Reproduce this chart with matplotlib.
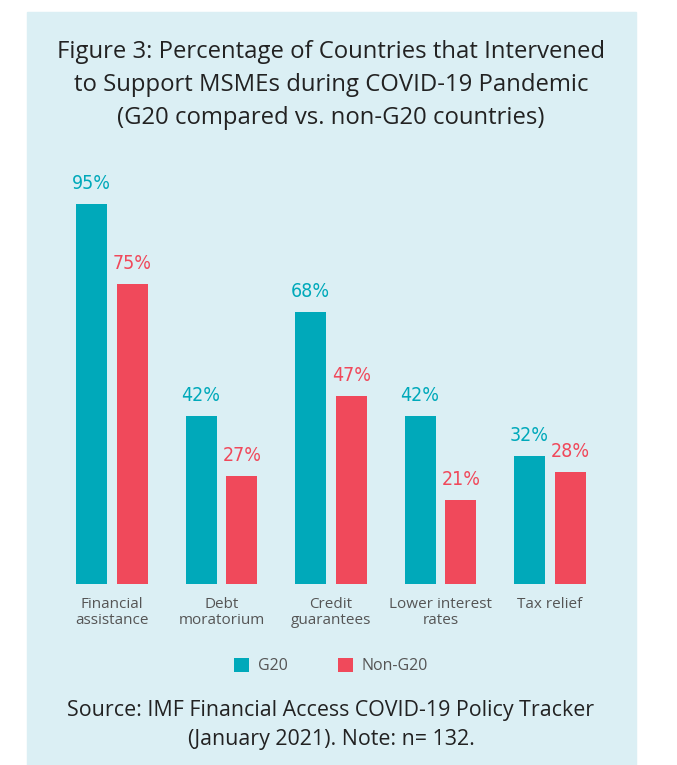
import matplotlib.pyplot as plt
from matplotlib import font_manager
import numpy as np

# Data
categories = ["Financial\nassistance", "Debt\nmoratorium", "Credit\nguarantees",
              "Lower interest\nrates", "Tax relief"]
g20 = [95, 42, 68, 42, 32]
non_g20 = [75, 27, 47, 21, 28]

teal = "#00A9BA"
red = "#F0495B"
bg = "#DBEFF4"
text_dark = "#222222"
text_gray = "#555555"
main_font = ["Open Sans", "DejaVu Sans"]

# look for a condensed sans font for the value labels
lab_prop = None
for f in font_manager.fontManager.ttflist:
    cond = str(f.stretch) in ("condensed", "semi-condensed", "extra-condensed") \
        or "Narrow" in f.name or "Condensed" in f.name
    if cond and "Serif" not in f.name and "Mono" not in f.name \
            and f.style == "normal" and f.weight in (400, "normal", 500):
        lab_prop = font_manager.FontProperties(fname=f.fname, size=14)
        break
if lab_prop is None:
    lab_prop = font_manager.FontProperties(family="Roboto", size=13)

W, H = 677, 765
fig = plt.figure(figsize=(W / 100, H / 100), dpi=100)
fig.patch.set_facecolor("white")

# light blue panel
panel = plt.Rectangle((27 / W, 0), (636 - 27) / W, (H - 12) / H,
                      transform=fig.transFigure, color=bg, zorder=-1)
fig.patches.append(panel)

# axes placed in pixel coordinates
ax_left, ax_right = 60, 602
ax_top, ax_bottom = 184, 584
ax = fig.add_axes([ax_left / W, (H - ax_bottom) / H,
                   (ax_right - ax_left) / W, (ax_bottom - ax_top) / H])
ax.set_facecolor("none")

x = np.arange(len(categories))
w = 0.283
off = 0.187
b1 = ax.bar(x - off, g20, w, color=teal, label="G20")
b2 = ax.bar(x + off, non_g20, w, color=red, label="Non-G20")

for bars, vals, c in [(b1, g20, teal), (b2, non_g20, red)]:
    for b, v in zip(bars, vals):
        ax.annotate(f"{v}%", (b.get_x() + b.get_width() / 2, v),
                    xytext=(0, 8), textcoords="offset points",
                    ha="center", va="bottom", color=c,
                    fontproperties=lab_prop)

ax.set_xlim((ax_left - 112) / 109.5, (ax_right - 112) / 109.5)
ax.set_ylim(0, 100)
ax.set_xticks(x)
ax.set_xticklabels(categories, fontsize=11, color=text_gray, family=main_font,
                   linespacing=1.1)
ax.tick_params(axis="x", length=0, pad=9)
ax.set_yticks([])
for s in ax.spines.values():
    s.set_visible(False)

# Title
fig.text(331 / W, 1 - 85 / H,
         "Figure 3: Percentage of Countries that Intervened\n"
         "to Support MSMEs during COVID-19 Pandemic\n"
         "(G20 compared vs. non-G20 countries)",
         ha="center", va="center", fontsize=17.2, color=text_dark,
         family=main_font, linespacing=1.5)

# Legend
fig.legend(handles=[b1, b2], labels=["G20", "Non-G20"], loc="center",
           bbox_to_anchor=(331 / W, 1 - 666 / H), ncol=2, frameon=False,
           handlelength=0.95, handleheight=0.95,
           columnspacing=3.1, handletextpad=0.55, labelcolor=text_gray,
           prop={"family": main_font, "size": 11.5})

# Source
fig.text(331 / W, 1 - 725 / H,
         "Source: IMF Financial Access COVID-19 Policy Tracker\n"
         "(January 2021). Note: n= 132.",
         ha="center", va="center", fontsize=15.4, color=text_dark,
         family=main_font, linespacing=1.5)

fig.savefig("out.png", dpi=100)
